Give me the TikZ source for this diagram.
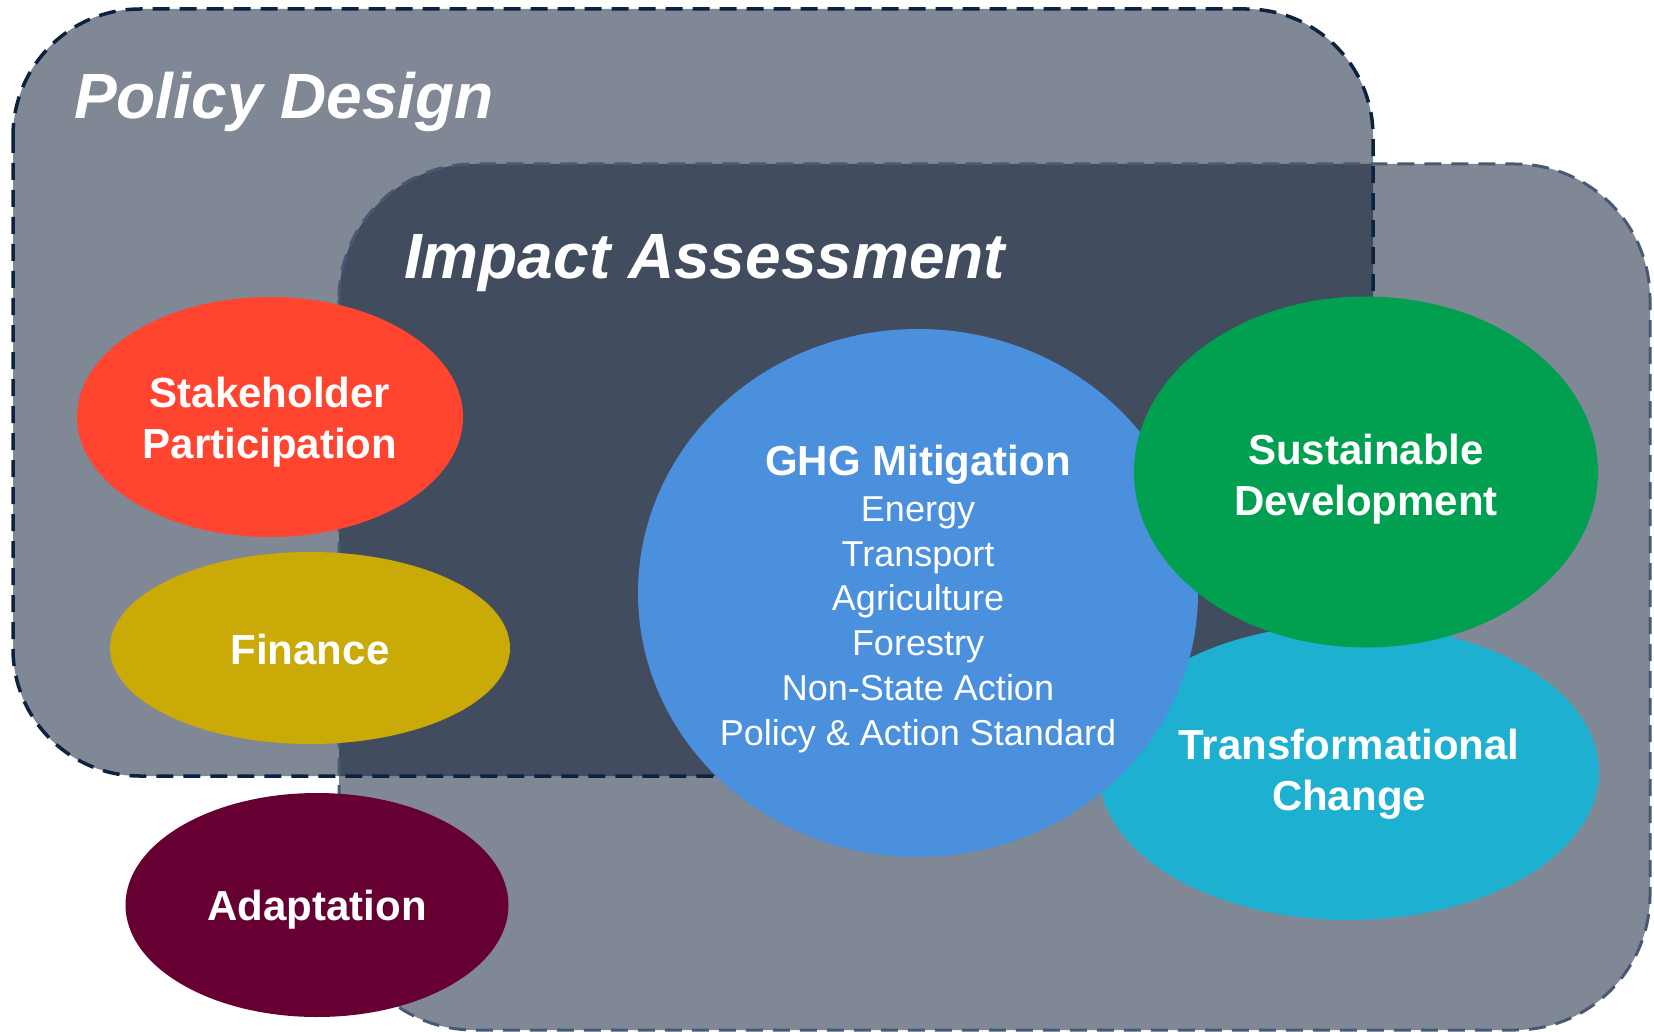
\documentclass[tikz,border=0pt]{standalone}
\usepackage{fontspec}
\setmainfont{Liberation Sans}
\usetikzlibrary{shapes.geometric}
\definecolor{boxnavy}{RGB}{3,17,43}
\definecolor{pdline}{RGB}{12,35,64}
\definecolor{ialine}{RGB}{70,90,118}
\definecolor{cred}{RGB}{255,69,48}
\definecolor{cmust}{RGB}{201,170,6}
\definecolor{cmaroon}{RGB}{102,0,51}
\definecolor{cblue}{RGB}{74,144,220}
\definecolor{cgreen}{RGB}{0,160,80}
\definecolor{ccyan}{RGB}{30,176,208}
\tikzset{
  areafill/.style={fill=boxnavy, fill opacity=0.5},
  pdborder/.style={draw=pdline, line width=3.5pt, dash pattern=on 17pt off 10pt},
  iaborder/.style={draw=ialine, line width=3pt, dash pattern=on 17pt off 10pt},
  title/.style={text=white, inner sep=0pt, font=\fontsize{64}{77}\selectfont\bfseries\itshape},
  blob/.style={ellipse, inner sep=0pt, draw=none},
  lbl/.style={text=white, inner sep=0pt, align=center, font=\fontsize{42}{50.6}\selectfont\bfseries},
  sublbl/.style={text=white, inner sep=0pt, align=center, font=\fontsize{36}{44.7}\selectfont},
}
\begin{document}
\begin{tikzpicture}[x=1pt,y=-1pt]
\useasboundingbox (0,0) rectangle (1654,1032);
% areas
\fill[areafill, rounded corners=135pt] (339,164) rectangle (1650,1030);
\fill[areafill, rounded corners=127pt] (13,9) rectangle (1373,776);
\draw[iaborder, rounded corners=135pt] (339,164) rectangle (1650,1030);
\draw[pdborder, rounded corners=127pt] (13,9) rectangle (1373,776);
\node[title, anchor=base west] (pd) at (74,119) {Policy Design};
\node[title, anchor=base west] (ia) at (404,279) {Impact Assessment};
% left ellipses
\node[blob, fill=cred, minimum width=386pt, minimum height=240pt] (sp) at (270,417) {};
\node[blob, fill=cmust, minimum width=400pt, minimum height=192pt] (fi) at (310,648) {};
\node[blob, fill=cmaroon, minimum width=383pt, minimum height=224pt] (ad) at (317,905) {};
\node[lbl, anchor=base] (spt) at (270,458) {Stakeholder\\Participation};
\node[lbl, anchor=base] (fit) at (310,664) {Finance};
\node[lbl, anchor=base] (adt) at (317,920) {Adaptation};
% right ellipses
\node[blob, fill=ccyan, minimum width=500pt, minimum height=296pt] (tc) at (1349,772) {};
\node[blob, fill=cblue, minimum width=560pt, minimum height=528pt] (ghg) at (918,593) {};
\node[blob, fill=cgreen, minimum width=464pt, minimum height=351pt] (sd) at (1366,472) {};
\node[lbl, anchor=base] (tct) at (1349,810) {Transformational\\Change};
\node[lbl, anchor=base] (sdt) at (1366,515) {Sustainable\\Development};
\node[lbl, anchor=base] (ghgt) at (918,475) {GHG Mitigation};
\node[sublbl, anchor=base] (ghgl) at (918,745) {Energy\\Transport\\Agriculture\\Forestry\\Non-State Action\\Policy \& Action Standard};
\end{tikzpicture}
\end{document}
